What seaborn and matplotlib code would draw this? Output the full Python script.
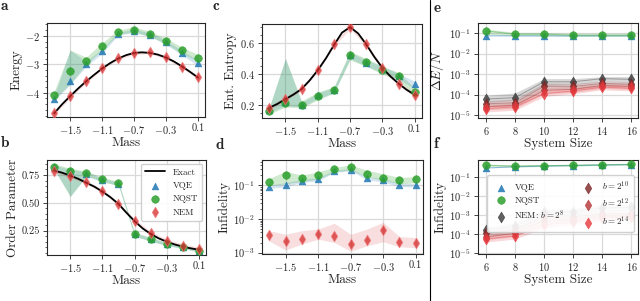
import numpy as np
import matplotlib
matplotlib.use("Agg")
import matplotlib.pyplot as plt
from matplotlib.ticker import AutoMinorLocator
from matplotlib.lines import Line2D
import seaborn as sns

# ---- data: mass sweep (panels a-d) ----
mass = [-1.7, -1.5, -1.3, -1.1, -0.9, -0.7, -0.5, -0.3, -0.1, 0.1]
mass_fine = [-1.7, -1.6, -1.5, -1.4, -1.3, -1.2, -1.1, -1.0, -0.9, -0.8,
             -0.7, -0.6, -0.5, -0.4, -0.3, -0.2, -0.1, 0.0, 0.1]

energy_exact = [-4.72, -4.4, -4.12, -3.85, -3.6, -3.37, -3.15, -2.96, -2.8, -2.68,
                -2.6, -2.58, -2.6, -2.66, -2.76, -2.9, -3.07, -3.26, -3.46]
energy_vqe = [-4.22, -3.6, -3.0, -2.55, -1.93, -1.82, -1.96, -2.23, -2.6, -2.95]
energy_vqe_lo = [-4.3, -3.7, -3.08, -2.62, -1.98, -1.88, -2.02, -2.3, -2.68, -3.05]
energy_vqe_hi = [-4.1, -2.5, -2.9, -2.45, -1.88, -1.76, -1.9, -2.15, -2.52, -2.85]
energy_nqst = [-4.07, -3.25, -2.89, -2.37, -1.87, -1.78, -1.95, -2.18, -2.51, -2.77]
energy_nqst_lo = [-4.2, -3.7, -3.0, -2.5, -1.95, -1.87, -2.02, -2.27, -2.62, -2.9]
energy_nqst_hi = [-3.95, -2.5, -2.75, -2.25, -1.8, -1.68, -1.85, -2.08, -2.4, -2.65]
energy_nem = [-4.71, -4.13, -3.6, -3.14, -2.79, -2.6, -2.58, -2.76, -3.08, -3.46]
energy_nem_lo = [-4.76, -4.18, -3.65, -3.19, -2.84, -2.65, -2.63, -2.81, -3.13, -3.51]
energy_nem_hi = [-4.66, -4.08, -3.55, -3.09, -2.74, -2.55, -2.53, -2.71, -3.03, -3.41]

order_exact = [0.79, 0.77, 0.745, 0.715, 0.68, 0.645, 0.6, 0.55, 0.49, 0.41,
               0.335, 0.27, 0.22, 0.18, 0.15, 0.125, 0.105, 0.09, 0.078]
order_vqe = [0.82, 0.785, 0.76, 0.705, 0.67, 0.215, 0.17, 0.128, 0.1, 0.07]
order_vqe_lo = [0.8, 0.56, 0.74, 0.69, 0.655, 0.2, 0.155, 0.115, 0.09, 0.058]
order_vqe_hi = [0.84, 0.8, 0.78, 0.72, 0.685, 0.23, 0.185, 0.14, 0.11, 0.08]
order_nqst = [0.825, 0.79, 0.765, 0.714, 0.675, 0.217, 0.172, 0.13, 0.106, 0.067]
order_nqst_lo = [0.8, 0.555, 0.74, 0.69, 0.655, 0.2, 0.155, 0.115, 0.09, 0.055]
order_nqst_hi = [0.85, 0.81, 0.785, 0.73, 0.69, 0.235, 0.19, 0.145, 0.12, 0.08]
order_nem = [0.789, 0.741, 0.684, 0.609, 0.486, 0.34, 0.227, 0.157, 0.115, 0.085]
order_nem_lo = [0.774, 0.726, 0.669, 0.594, 0.471, 0.325, 0.212, 0.142, 0.1, 0.07]
order_nem_hi = [0.804, 0.756, 0.699, 0.624, 0.501, 0.355, 0.242, 0.172, 0.13, 0.1]

entropy_exact = [0.185, 0.21, 0.24, 0.27, 0.305, 0.36, 0.425, 0.5, 0.585, 0.665,
                 0.7, 0.66, 0.59, 0.51, 0.44, 0.385, 0.34, 0.3, 0.268]
entropy_vqe = [0.17, 0.22, 0.205, 0.265, 0.297, 0.52, 0.47, 0.43, 0.385, 0.335]
entropy_vqe_lo = [0.155, 0.2, 0.19, 0.245, 0.28, 0.5, 0.45, 0.41, 0.365, 0.31]
entropy_vqe_hi = [0.185, 0.5, 0.22, 0.28, 0.315, 0.54, 0.49, 0.45, 0.405, 0.355]
entropy_nqst = [0.164, 0.216, 0.206, 0.26, 0.297, 0.52, 0.475, 0.426, 0.387, 0.287]
entropy_nqst_lo = [0.145, 0.19, 0.185, 0.235, 0.28, 0.49, 0.45, 0.4, 0.36, 0.26]
entropy_nqst_hi = [0.19, 0.5, 0.23, 0.285, 0.32, 0.545, 0.5, 0.45, 0.41, 0.31]
entropy_nem = [0.185, 0.243, 0.307, 0.426, 0.59, 0.7, 0.59, 0.437, 0.34, 0.266]
entropy_nem_lo = [0.173, 0.231, 0.295, 0.414, 0.578, 0.688, 0.578, 0.425, 0.328, 0.254]
entropy_nem_hi = [0.197, 0.255, 0.319, 0.438, 0.602, 0.712, 0.602, 0.449, 0.352, 0.278]

infid_vqe = [0.089, 0.1, 0.133, 0.15, 0.26, 0.29, 0.16, 0.14, 0.1, 0.1]
infid_vqe_lo = [0.08, 0.09, 0.12, 0.135, 0.24, 0.27, 0.145, 0.125, 0.09, 0.09]
infid_vqe_hi = [0.1, 0.12, 0.15, 0.17, 0.28, 0.32, 0.18, 0.16, 0.115, 0.115]
infid_nqst = [0.127, 0.195, 0.166, 0.2, 0.295, 0.34, 0.22, 0.17, 0.14, 0.156]
infid_nqst_lo = [0.1, 0.11, 0.13, 0.15, 0.25, 0.28, 0.18, 0.14, 0.11, 0.12]
infid_nqst_hi = [0.16, 0.26, 0.2, 0.25, 0.34, 0.4, 0.28, 0.22, 0.17, 0.18]
infid_nem = [0.0033, 0.0022, 0.0026, 0.0035, 0.0031, 0.0018, 0.0024, 0.0046, 0.0021, 0.0019]
infid_nem_lo = [0.0022, 0.0012, 0.0018, 0.0025, 0.002, 0.0011, 0.0016, 0.0021, 0.0015, 0.0014]
infid_nem_hi = [0.0045, 0.0035, 0.0045, 0.005, 0.0075, 0.0035, 0.005, 0.008, 0.003, 0.0028]

# ---- data: system size sweep (panels e-f) ----
sizes = [6, 8, 10, 12, 14, 16]

de_vqe = [0.075, 0.074, 0.074, 0.074, 0.074, 0.074]
de_nqst = [0.13, 0.09, 0.09, 0.08, 0.08, 0.08]
de_nqst_lo = [0.09, 0.075, 0.075, 0.07, 0.07, 0.07]
de_nqst_hi = [0.16, 0.11, 0.11, 0.1, 0.1, 0.1]
de_b8 = [6e-5, 7e-5, 4.2e-4, 4.2e-4, 6e-4, 5.5e-4]
de_b8_lo = [4e-5, 5e-5, 2.8e-4, 3e-4, 4.2e-4, 4e-4]
de_b8_hi = [9e-5, 1.2e-4, 6e-4, 6e-4, 7.5e-4, 7.5e-4]
de_b10 = [3.5e-5, 4e-5, 2.5e-4, 2.5e-4, 3.5e-4, 3.2e-4]
de_b10_lo = [2.5e-5, 2.8e-5, 1.6e-4, 1.8e-4, 2.5e-4, 2.3e-4]
de_b10_hi = [5e-5, 6e-5, 3.6e-4, 3.5e-4, 4.5e-4, 4.3e-4]
de_b12 = [2.5e-5, 3e-5, 1.6e-4, 1.8e-4, 2.8e-4, 2.5e-4]
de_b12_lo = [1.8e-5, 2.1e-5, 1.1e-4, 1.3e-4, 2e-4, 1.8e-4]
de_b12_hi = [3.5e-5, 4.2e-5, 2.3e-4, 2.5e-4, 3.6e-4, 3.3e-4]
de_b14 = [2e-5, 2.5e-5, 1.1e-4, 1.5e-4, 2.3e-4, 2e-4]
de_b14_lo = [1.4e-5, 1.7e-5, 8e-5, 1.1e-4, 1.7e-4, 1.5e-4]
de_b14_hi = [2.8e-5, 3.5e-5, 1.6e-4, 2e-4, 3e-4, 2.7e-4]

fi_vqe = [0.3, 0.35, 0.38, 0.4, 0.43, 0.45]
fi_nqst = [0.42, 0.38, 0.4, 0.42, 0.45, 0.47]
fi_nqst_lo = [0.36, 0.34, 0.36, 0.38, 0.41, 0.43]
fi_nqst_hi = [0.48, 0.44, 0.45, 0.47, 0.5, 0.52]
fi_b8 = [1.7e-4, 2.6e-4, 1.4e-3, 1.5e-3, 2.4e-3, 2.6e-3]
fi_b8_lo = [1.1e-4, 1.7e-4, 9e-4, 1e-3, 1.6e-3, 1.7e-3]
fi_b8_hi = [2.4e-4, 3.8e-4, 2e-3, 2.2e-3, 3.4e-3, 3.6e-3]
fi_b10 = [1.1e-4, 1.6e-4, 8e-4, 8e-4, 1.2e-3, 1.2e-3]
fi_b10_lo = [7.5e-5, 1.1e-4, 5.5e-4, 5.5e-4, 8.5e-4, 8.5e-4]
fi_b10_hi = [1.6e-4, 2.3e-4, 1.2e-3, 1.2e-3, 1.7e-3, 1.7e-3]
fi_b12 = [7e-5, 1.1e-4, 5e-4, 5.5e-4, 9e-4, 9e-4]
fi_b12_lo = [5e-5, 7.5e-5, 3.4e-4, 3.8e-4, 6.2e-4, 6.2e-4]
fi_b12_hi = [1e-4, 1.6e-4, 7.2e-4, 8e-4, 1.3e-3, 1.3e-3]
fi_b14 = [5.5e-5, 8e-5, 3e-4, 4.5e-4, 7e-4, 8e-4]
fi_b14_lo = [3.8e-5, 5.5e-5, 2.1e-4, 3.1e-4, 4.8e-4, 5.5e-4]
fi_b14_hi = [8e-5, 1.15e-4, 4.3e-4, 6.5e-4, 1e-3, 1.15e-3]

mass_ticks = [-1.5, -1.1, -0.7, -0.3, 0.1]

# ---- style ----
sns.set_style("whitegrid", {"axes.edgecolor": ".15", "grid.color": ".85",
                            "xtick.bottom": True, "ytick.left": True})
plt.rcParams["font.family"] = "serif"
plt.rcParams["font.serif"] = ["cmr10"]
plt.rcParams["mathtext.fontset"] = "cm"
plt.rcParams["axes.formatter.use_mathtext"] = True

BLUE = "#1f77b4"
GREEN = "#2ca02c"
RED = "#d62728"
B_COLORS = ["#3a3a3a", "#7d2424", "#b63636", "#e8383d"]

W, H = 640, 301
fig = plt.figure(figsize=(6.4, 3.01), dpi=100)


def add_ax(x0, y0, x1, y1):
    return fig.add_axes([x0 / W, 1 - y1 / H, (x1 - x0) / W, (y1 - y0) / H])


def style_ax(ax, xlabel, ylabel, log=False):
    ax.set_xlabel(xlabel, fontsize=9.5, labelpad=1)
    ax.set_ylabel(ylabel, fontsize=9.5, labelpad=2)
    ax.tick_params(axis="both", which="major", labelsize=7.5, length=3, width=0.6,
                   pad=2, color=".15")
    ax.tick_params(axis="y", which="minor", length=1.6, width=0.5, color=".15", left=True)
    if not log:
        ax.yaxis.set_minor_locator(AutoMinorLocator())
    for s in ax.spines.values():
        s.set_linewidth(0.8)
    ax.grid(True, which="major", linewidth=0.9)
    ax.grid(False, which="minor")


def mass_panel(ax, exact, vqe, vqe_lo, vqe_hi, nqst, nqst_lo, nqst_hi, nem, nem_lo, nem_hi):
    ax.fill_between(mass, vqe_lo, vqe_hi, color=BLUE, alpha=0.18, lw=0)
    ax.fill_between(mass, nqst_lo, nqst_hi, color=GREEN, alpha=0.22, lw=0)
    ax.fill_between(mass, nem_lo, nem_hi, color=RED, alpha=0.15, lw=0)
    if exact is not None:
        sns.lineplot(x=mass_fine, y=exact, ax=ax, color="k", lw=1.3, zorder=4, label="Exact")
    sns.scatterplot(x=mass, y=vqe, ax=ax, marker="^", color=BLUE, s=24, alpha=0.85,
                    edgecolor=BLUE, linewidth=0.4, zorder=5, label="VQE")
    sns.scatterplot(x=mass, y=nqst, ax=ax, marker="o", color=GREEN, s=30, alpha=0.85,
                    edgecolor=GREEN, linewidth=0.4, zorder=6, label="NQST")
    sns.scatterplot(x=mass, y=nem, ax=ax, marker="d", color=RED, s=30, alpha=0.75,
                    edgecolor="#f08080", linewidth=0.6, zorder=7, label="NEM")
    ax.set_xticks(mass_ticks)
    ax.set_xticklabels([f"{t:g}" if t >= 0 else f"$-${abs(t):g}" for t in mass_ticks])
    ax.set_xlim(-1.79, 0.19)


# panel a
ax_a = add_ax(47, 23, 205, 117)
mass_panel(ax_a, energy_exact, energy_vqe, energy_vqe_lo, energy_vqe_hi,
           energy_nqst, energy_nqst_lo, energy_nqst_hi, energy_nem, energy_nem_lo, energy_nem_hi)
ax_a.set_ylim(-4.85, -1.55)
ax_a.set_yticks([-4, -3, -2])
ax_a.get_legend().remove()
style_ax(ax_a, "Mass", "Energy")

# panel b
ax_b = add_ax(47, 160, 206, 255)
mass_panel(ax_b, order_exact, order_vqe, order_vqe_lo, order_vqe_hi,
           order_nqst, order_nqst_lo, order_nqst_hi, order_nem, order_nem_lo, order_nem_hi)
ax_b.set_ylim(0.03, 0.885)
ax_b.set_yticks([0.25, 0.5, 0.75])
ax_b.set_yticklabels(["0.25", "0.50", "0.75"])
style_ax(ax_b, "Mass", "Order Parameter")
leg_b = ax_b.legend(loc="upper right", fontsize=6.5, handlelength=2.2, borderpad=0.5,
                    labelspacing=0.55, framealpha=0.9, borderaxespad=0.4)
leg_b.set_zorder(20)

# panel c
ax_c = add_ax(262, 24, 422, 118)
mass_panel(ax_c, entropy_exact, entropy_vqe, entropy_vqe_lo, entropy_vqe_hi,
           entropy_nqst, entropy_nqst_lo, entropy_nqst_hi, entropy_nem, entropy_nem_lo, entropy_nem_hi)
ax_c.set_ylim(0.12, 0.72)
ax_c.set_yticks([0.2, 0.4, 0.6])
ax_c.get_legend().remove()
style_ax(ax_c, "Mass", "Ent. Entropy")

# panel d
ax_d = add_ax(262, 160, 423, 254)
mass_panel(ax_d, None, infid_vqe, infid_vqe_lo, infid_vqe_hi,
           infid_nqst, infid_nqst_lo, infid_nqst_hi, infid_nem, infid_nem_lo, infid_nem_hi)
ax_d.set_yscale("log")
ax_d.set_ylim(10 ** -3.04, 10 ** -0.25)
ax_d.get_legend().remove()
style_ax(ax_d, "Mass", "Infidelity", log=True)


def size_panel(ax, vqe, nqst, nqst_lo, nqst_hi, nem_series):
    for (vals, lo, hi, lab), c in zip(nem_series, B_COLORS):
        ax.fill_between(sizes, lo, hi, color=c, alpha=0.2, lw=0)
    ax.fill_between(sizes, nqst_lo, nqst_hi, color=GREEN, alpha=0.2, lw=0)
    sns.lineplot(x=sizes, y=vqe, ax=ax, color=BLUE, lw=0.8, alpha=0.5)
    sns.lineplot(x=sizes, y=nqst, ax=ax, color=GREEN, lw=0.8, alpha=0.4)
    sns.scatterplot(x=sizes, y=vqe, ax=ax, marker="^", color=BLUE, s=24, alpha=0.85,
                    edgecolor=BLUE, linewidth=0.4, zorder=5, label="VQE")
    sns.scatterplot(x=sizes, y=nqst, ax=ax, marker="o", color=GREEN, s=30, alpha=0.85,
                    edgecolor=GREEN, linewidth=0.4, zorder=6, label="NQST")
    for (vals, lo, hi, lab), c in zip(nem_series, B_COLORS):
        sns.lineplot(x=sizes, y=vals, ax=ax, color=c, lw=0.7, alpha=0.4)
        sns.scatterplot(x=sizes, y=vals, ax=ax, marker="d", color=c, s=30, alpha=0.8,
                        edgecolor=c, linewidth=0.5, zorder=7, label=lab)
    ax.set_yscale("log")
    ax.set_xticks(sizes)
    ax.set_xlim(5.45, 16.45)


b_labels = [r"NEM: $b=2^8$", r"$b=2^{10}$", r"$b=2^{12}$", r"$b=2^{14}$"]

# panel e
ax_e = add_ax(478, 23, 638, 118)
size_panel(ax_e, de_vqe, de_nqst, de_nqst_lo, de_nqst_hi,
           list(zip([de_b8, de_b10, de_b12, de_b14],
                    [de_b8_lo, de_b10_lo, de_b12_lo, de_b14_lo],
                    [de_b8_hi, de_b10_hi, de_b12_hi, de_b14_hi], b_labels)))
ax_e.set_ylim(10 ** -5.15, 10 ** -0.5)
ax_e.set_yticks([1e-5, 1e-4, 1e-3, 1e-2, 1e-1])
ax_e.get_legend().remove()
style_ax(ax_e, "System Size", r"$\Delta E/N$", log=True)

# panel f
ax_f = add_ax(478, 160, 638, 254)
size_panel(ax_f, fi_vqe, fi_nqst, fi_nqst_lo, fi_nqst_hi,
           list(zip([fi_b8, fi_b10, fi_b12, fi_b14],
                    [fi_b8_lo, fi_b10_lo, fi_b12_lo, fi_b14_lo],
                    [fi_b8_hi, fi_b10_hi, fi_b12_hi, fi_b14_hi], b_labels)))
ax_f.set_ylim(10 ** -5.05, 10 ** -0.1)
ax_f.set_yticks([1e-5, 1e-4, 1e-3, 1e-2, 1e-1])
style_ax(ax_f, "System Size", "Infidelity", log=True)
handles, labels = ax_f.get_legend_handles_labels()
ax_f.get_legend().remove()
leg_f = ax_f.legend(handles, labels, loc="upper left", bbox_to_anchor=(0.03, 0.885), ncol=2,
                    fontsize=6.5, columnspacing=1.6, handletextpad=0.5, labelspacing=0.45,
                    borderpad=0.5, framealpha=0.9)
leg_f.set_zorder(20)

# panel labels
for lab, x, y in [("a", 4, 6), ("b", 5, 143), ("c", 216, 6),
                  ("d", 220, 145), ("e", 437, 8), ("f", 436, 144)]:
    fig.text(x / W, 1 - y / H, lab, fontsize=11, family="cmb10", ha="center", va="center")

# divider between left and right blocks
fig.add_artist(Line2D([430 / W, 430 / W], [0, 1], color="k", lw=0.8))

fig.savefig("out.png", dpi=100)
